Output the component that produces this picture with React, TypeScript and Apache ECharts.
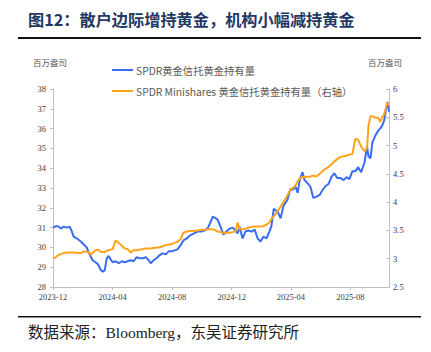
import React, { useEffect, useRef } from "react";
import * as echarts from "echarts";

const tickLabels = ["2023-12", "2024-04", "2024-08", "2024-12", "2025-04", "2025-08"];
const axisEnd = "2025-10-19";

const dates = [
  "2023-12-01", "2023-12-07", "2023-12-13", "2023-12-17", "2023-12-23", "2023-12-29",
  "2024-01-04", "2024-01-08", "2024-01-12", "2024-01-19", "2024-01-27",
  "2024-02-02", "2024-02-08", "2024-02-12", "2024-02-16", "2024-02-20", "2024-02-26",
  "2024-03-02", "2024-03-08", "2024-03-12", "2024-03-16", "2024-03-20", "2024-03-24", "2024-03-28",
  "2024-04-01", "2024-04-07", "2024-04-14", "2024-04-20", "2024-04-26",
  "2024-05-02", "2024-05-08", "2024-05-14", "2024-05-20", "2024-05-26",
  "2024-06-02", "2024-06-08", "2024-06-14", "2024-06-18", "2024-06-24", "2024-06-30",
  "2024-07-06", "2024-07-12", "2024-07-19", "2024-07-25", "2024-07-31",
  "2024-08-06", "2024-08-12", "2024-08-18", "2024-08-24", "2024-08-31",
  "2024-09-06", "2024-09-14", "2024-09-22", "2024-09-30",
  "2024-10-06", "2024-10-13", "2024-10-19", "2024-10-23", "2024-10-27",
  "2024-11-02", "2024-11-08", "2024-11-14", "2024-11-20", "2024-11-27",
  "2024-12-03", "2024-12-09", "2024-12-13", "2024-12-17", "2024-12-23", "2024-12-29",
  "2025-01-04", "2025-01-11", "2025-01-17", "2025-01-23", "2025-01-29",
  "2025-02-04", "2025-02-10", "2025-02-16", "2025-02-20", "2025-02-25",
  "2025-03-05", "2025-03-11", "2025-03-17", "2025-03-25", "2025-03-31",
  "2025-04-04", "2025-04-11", "2025-04-15", "2025-04-19", "2025-04-25", "2025-04-29",
  "2025-05-05", "2025-05-11", "2025-05-17", "2025-05-23", "2025-05-30",
  "2025-06-05", "2025-06-11", "2025-06-17", "2025-06-23", "2025-06-29",
  "2025-07-05", "2025-07-12", "2025-07-18", "2025-07-24", "2025-07-30",
  "2025-08-05", "2025-08-11", "2025-08-17", "2025-08-23", "2025-08-30",
  "2025-09-04", "2025-09-07", "2025-09-11", "2025-09-15", "2025-09-21", "2025-09-27",
  "2025-10-01", "2025-10-05", "2025-10-09", "2025-10-13", "2025-10-16", "2025-10-19",
];

// SPDR 黄金信托黄金持有量（百万盎司，左轴）
const spdrHoldings = [
  31.0, 31.08, 31.05, 30.95, 31.05, 31.0,
  31.05, 30.85, 30.55, 30.45, 30.3,
  30.15, 30.0, 29.75, 29.55, 29.35, 29.25,
  29.15, 28.85, 28.77, 28.85, 29.45, 29.57, 29.4,
  29.25, 29.3, 29.2, 29.3, 29.25,
  29.3, 29.35, 29.3, 29.5, 29.45,
  29.45, 29.5, 29.35, 29.2, 29.35, 29.45,
  29.6, 29.7, 29.65, 29.8, 29.8,
  29.85, 29.9, 30.1, 30.35, 30.45,
  30.6, 30.7, 30.8, 30.8,
  30.85, 30.97, 31.3, 31.55, 31.5,
  31.4, 31.05, 30.65, 30.8, 30.95,
  31.0, 30.85, 30.7, 31.05, 30.45, 30.8,
  30.85, 30.8, 30.9, 30.45, 30.3,
  30.55, 30.45, 30.8, 31.05, 31.95,
  31.8, 31.47, 32.1, 32.4, 32.95,
  32.9, 33.05, 32.75, 33.4, 33.8, 33.4,
  33.25, 33.07, 32.5, 32.55, 32.65,
  32.9, 33.1, 33.2, 33.55, 33.75,
  33.5, 33.5, 33.4, 33.55, 33.45,
  33.85, 33.85, 34.05, 33.8, 34.3,
  35.1, 34.6, 34.5, 35.3, 35.65, 35.9,
  36.0, 36.15, 36.4, 37.0, 37.35, 36.85,
];

// SPDR Minishares 黄金信托黄金持有量（百万盎司，右轴）
const miniHoldings = [
  3.0, 3.03, 3.07, 3.08, 3.1, 3.11,
  3.11, 3.11, 3.11, 3.1, 3.1,
  3.13, 3.12, 3.12, 3.07, 3.1, 3.15,
  3.16, 3.12, 3.12, 3.12, 3.14, 3.15, 3.16,
  3.17, 3.32, 3.28, 3.23, 3.18,
  3.17, 3.11, 3.15, 3.15, 3.16,
  3.17, 3.18, 3.18, 3.18, 3.19, 3.2,
  3.2, 3.22, 3.24, 3.25, 3.26,
  3.28, 3.3, 3.34, 3.46, 3.48,
  3.49, 3.49, 3.5, 3.51,
  3.51, 3.52, 3.52, 3.52, 3.51,
  3.48, 3.47, 3.46, 3.46, 3.46,
  3.47, 3.49, 3.64, 3.52, 3.52, 3.53,
  3.55, 3.56, 3.57, 3.57, 3.57,
  3.58, 3.6, 3.64, 3.7, 3.75,
  3.84, 3.92, 4.0, 4.12, 4.22,
  4.24, 4.3, 4.37, 4.42, 4.45, 4.44,
  4.45, 4.45, 4.47, 4.45, 4.5,
  4.55, 4.59, 4.62, 4.67, 4.72,
  4.76, 4.8, 4.81, 4.82, 4.84,
  4.85, 5.12, 5.1, 4.98, 4.9,
  4.95, 5.35, 5.52, 5.52, 5.49, 5.49,
  5.42, 5.5, 5.55, 5.68, 5.76, 5.72,
];

const seriesNames = ["SPDR黄金信托黄金持有量", "SPDR Minishares 黄金信托黄金持有量（右轴）"];
const titleText = "图12：散户边际增持黄金，机构小幅减持黄金";
const sourceText = "数据来源：Bloomberg，东吴证券研究所";
const unitText = "百万盎司";

const START = Date.UTC(2023, 11, 1);
const toDay = (s: string) => {
  const p = s.split("-").map(Number);
  return Math.round((Date.UTC(p[0], p[1] - 1, p[2] || 1) - START) / 86400000);
};

const SERIF = '"Liberation Serif", "Times New Roman", serif';
const SANS = '"Noto Sans CJK SC", "Noto Sans", sans-serif';

export default function App() {
  const ref = useRef<HTMLDivElement>(null);
  useEffect(() => {
    if (!ref.current) return;
    const chart = echarts.init(ref.current, undefined, { renderer: "svg" });
    const tickDays = tickLabels.map(toDay);
    const option: any = {
      animation: false,
      backgroundColor: "#ffffff",
      grid: { left: 53, right: 42, top: 89, bottom: 65 },
      legend: {
        orient: "vertical",
        left: 107,
        top: 59,
        icon: "rect",
        itemWidth: 21,
        itemHeight: 2,
        itemGap: 9,
        textStyle: { fontSize: 10.3, color: "#595959", fontFamily: SANS, lineHeight: 12, padding: [0, 0, 0, -2] },
        data: seriesNames,
      },
      xAxis: {
        type: "value",
        min: 0,
        max: toDay(axisEnd),
        splitLine: { show: false },
        axisLine: { lineStyle: { color: "#bfbfbf", width: 1 } },
        axisTick: { show: true, customValues: tickDays, length: 3, lineStyle: { color: "#bfbfbf" } },
        axisLabel: {
          customValues: tickDays,
          formatter: (v: number) => {
            const i = tickDays.indexOf(Math.round(v));
            return i >= 0 ? tickLabels[i] : "";
          },
          fontFamily: SERIF,
          fontSize: 8.5,
          color: "#404040",
          margin: 5,
        },
      },
      yAxis: [
        {
          type: "value",
          position: "left",
          min: 28,
          max: 38,
          interval: 1,
          splitLine: { show: false },
          axisLine: { show: true, lineStyle: { color: "#bfbfbf" } },
          axisTick: { show: true, length: 3, lineStyle: { color: "#bfbfbf" } },
          axisLabel: { fontFamily: SERIF, fontSize: 8.5, color: "#404040", margin: 7 },
        },
        {
          type: "value",
          position: "right",
          min: 2.5,
          max: 6,
          interval: 0.5,
          splitLine: { show: false },
          axisLine: { show: true, lineStyle: { color: "#bfbfbf" } },
          axisTick: { show: true, inside: true, length: 3, lineStyle: { color: "#bfbfbf" } },
          axisLabel: { fontFamily: SERIF, fontSize: 8.5, color: "#404040", margin: 4 },
        },
      ],
      series: [
        {
          name: seriesNames[0],
          type: "line",
          yAxisIndex: 0,
          showSymbol: false,
          symbol: "none",
          lineStyle: { color: "#3a6cf4", width: 2 },
          itemStyle: { color: "#3a6cf4" },
          data: dates.map((d, i) => [toDay(d), spdrHoldings[i]]),
        },
        {
          name: seriesNames[1],
          type: "line",
          yAxisIndex: 1,
          showSymbol: false,
          symbol: "none",
          lineStyle: { color: "#ffa31a", width: 2 },
          itemStyle: { color: "#ffa31a" },
          data: dates.map((d, i) => [toDay(d), miniHoldings[i]]),
        },
      ],
      graphic: [
        {
          type: "text",
          style: {
            text: titleText,
            x: 28,
            y: 19,
            verticalAlign: "middle",
            font: `bold 16.2px ${SANS}`,
            fill: "#1f3864",
          },
        },
        { type: "rect", shape: { x: 18, y: 37, width: 403, height: 2 }, style: { fill: "#111111" } },
        { type: "rect", shape: { x: 18, y: 316, width: 403, height: 1.5 }, style: { fill: "#111111" } },
        {
          type: "text",
          style: {
            text: sourceText,
            x: 28,
            y: 332,
            verticalAlign: "middle",
            font: `15.5px ${SERIF}, ${SANS}`,
            fill: "#222222",
          },
        },
        {
          type: "text",
          style: { text: unitText, x: 50, y: 62, align: "center", verticalAlign: "middle", font: `8.5px ${SANS}`, fill: "#595959" },
        },
        {
          type: "text",
          style: { text: unitText, x: 385, y: 62, align: "center", verticalAlign: "middle", font: `8.5px ${SANS}`, fill: "#595959" },
        },
      ],
    };
    chart.setOption(option);
    return () => chart.dispose();
  }, []);
  return <div ref={ref} style={{ position: "fixed", left: 0, top: 0, width: 431, height: 352, background: "#fff" }} />;
}
